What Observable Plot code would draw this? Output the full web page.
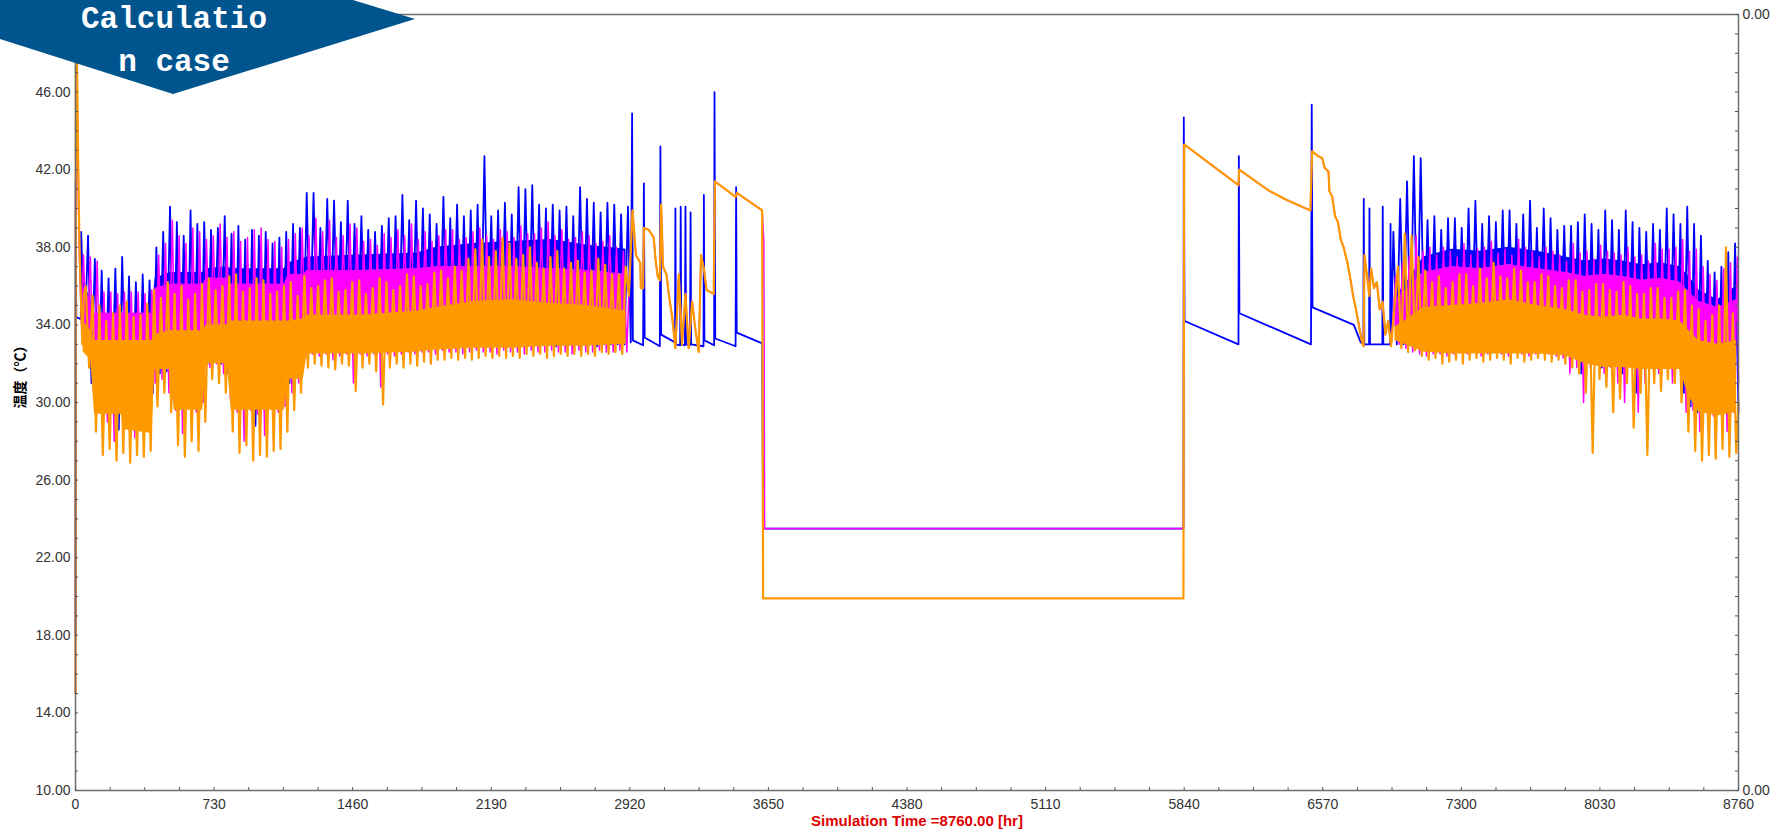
<!DOCTYPE html>
<html>
<head>
<meta charset="utf-8">
<script src="https://cdn.jsdelivr.net/npm/d3@7"></script>
<script src="https://cdn.jsdelivr.net/npm/@observablehq/plot@0.6"></script>
<style>
  html, body { margin: 0; padding: 0; background: #fff; }
  #wrap { position: relative; width: 1785px; height: 836px; overflow: hidden; }
  #banner { position: absolute; left: 0; top: 0; }
</style>
</head>
<body>
<div id="wrap">
  <div id="chart"></div>
  <svg id="banner" width="430" height="100">
    <polygon points="0,0 353,0 415,19 173,94 0,39" fill="#00558f"></polygon>
    <text x="174" y="28" text-anchor="middle" font-family="Liberation Mono, monospace" font-weight="bold" font-size="31" fill="#fff">Calculatio</text>
    <text x="174" y="71" text-anchor="middle" font-family="Liberation Mono, monospace" font-weight="bold" font-size="31" fill="#fff">n case</text>
  </svg>
</div>
<script>
// ---------- axis ticks & titles ----------
const xTicks = [0, 730, 1460, 2190, 2920, 3650, 4380, 5110, 5840, 6570, 7300, 8030, 8760];
const yTicks = [10, 14, 18, 22, 26, 30, 34, 38, 42, 46];
const xTitle = "Simulation Time =8760.00 [hr]";
const yTitle = "温度（℃）";

// ================= BLUE =================
const blueStart = [[0, 18.0], [1, 41.4], [4, 34.4], [28, 34.3]];
// daily highs, every 36 h from hour 30
const blueHiA = [38.8, 38.6, 37.4, 36.8, 36.4, 36.9, 37.5, 36.5, 36.2, 36.6,
  36.3, 38.0, 38.8, 40.1, 39.3, 38.6, 39.9, 39.2, 39.3, 38.9,
  39.0, 39.6, 38.7, 39.1, 38.4, 38.9, 38.6, 38.8, 38.2, 38.5,
  38.8, 39.2, 39.0, 40.8, 40.8, 39.0, 40.5, 40.4, 39.3, 40.4,
  39.2, 39.6, 38.9, 38.8, 39.1, 39.5, 39.6, 40.7, 39.4, 40.4,
  40.0, 39.7, 39.2, 40.6, 39.5, 40.2, 39.6, 39.9, 40.2, 42.7,
  39.6, 39.9, 40.3, 39.7, 41.1, 41.0, 41.2, 40.2, 40.0, 40.2,
  39.9, 40.1, 39.6, 41.1, 40.5, 40.3, 39.8, 40.3, 40.2, 39.7,
  40.1];
// daily lows, every 36 h from hour 48
const blueLoA = [33.0, 31.0, 30.0, 29.8, 30.2, 28.6, 30.0, 29.6, 29.9, 29.8,
  30.5, 31.5, 31.6, 30.2, 29.9, 29.8, 30.0, 30.2, 32.0, 32.2,
  32.0, 31.5, 30.2, 29.9, 29.8, 28.8, 29.9, 30.1, 30.2, 30.3,
  31.0, 31.5, 32.0, 33.0, 32.9, 33.0, 33.1, 33.0, 32.9, 33.0,
  33.0, 33.1, 33.0, 32.9, 33.0, 33.0, 33.1, 33.0, 33.0, 32.9,
  33.0, 33.0, 33.1, 33.0, 33.0, 33.0, 32.9, 33.0, 33.1, 33.0,
  33.0, 33.0, 32.9, 33.0, 33.0, 33.1, 33.0, 33.0, 33.0, 32.9,
  33.0, 33.0, 33.1, 33.0, 33.0, 32.9, 33.0, 33.0, 33.0, 33.0];
// switching / idle / restart period (hour, °C)
const blueSaw = [[2925, 33.1], [2932, 44.9], [2936, 33.2], [2990, 32.95], [2994, 41.3], [2998, 33.35],
  [3078, 32.9], [3081, 43.2], [3085, 33.5], [3158, 33.1], [3160, 40.0], [3163, 33.0],
  [3185, 32.95], [3188, 40.1], [3191, 33.0], [3210, 32.95], [3213, 40.1], [3216, 33.0],
  [3237, 32.95], [3240, 39.8], [3243, 33.0], [3308, 32.9], [3310, 40.7], [3313, 33.2],
  [3364, 32.95], [3366, 46.0], [3370, 33.3], [3477, 32.9], [3480, 41.1], [3483, 33.6],
  [3617, 33.05], [3622, 23.5], [5836, 23.5], [5838, 44.7], [5842, 34.2], [6126, 33.0],
  [6128, 42.7], [6131, 34.6], [6508, 33.0], [6512, 45.35], [6516, 34.9], [6734, 34.0],
  [6770, 33.1], [6784, 33.0], [6786, 40.5], [6789, 33.0], [6814, 33.0], [6816, 40.0],
  [6819, 33.0], [6884, 33.0], [6886, 40.1], [6889, 33.0], [6925, 33.0], [6927, 39.2], [6930, 33.0]];
// highs every 36 h from hour 6942, lows every 36 h from hour 6960
const blueHiB = [38.8, 40.5, 41.4, 42.7, 42.6, 39.4, 39.6, 38.9, 39.5, 39.5,
  39.0, 40.0, 40.4, 39.2, 39.6, 39.3, 39.9, 39.9, 39.2, 39.7,
  40.4, 39.0, 40.0, 39.5, 38.9, 39.1, 39.1, 39.3, 39.7, 39.2,
  38.9, 39.9, 39.4, 38.9, 39.9, 39.3, 39.0, 38.8, 39.2, 38.9,
  40.0, 39.7, 39.2, 40.1, 39.2, 38.6, 37.3, 36.7, 37.0, 37.75,
  38.2];
const blueLoB = [33.0, 33.0, 33.0, 33.0, 33.0, 33.0, 32.9, 33.0, 33.0, 33.0,
  33.0, 32.9, 33.0, 33.0, 33.0, 33.0, 33.0, 32.9, 33.0, 33.0,
  33.0, 33.0, 33.0, 33.0, 33.0, 32.8, 32.3, 31.5, 32.5, 32.3,
  31.8, 32.5, 32.2, 31.5, 32.5, 30.5, 32.2, 32.0, 32.5, 32.2,
  31.8, 32.2, 30.5, 29.8, 29.5, 29.8, 29.6, 30.0, 29.5, 29.8];
const blueEnd = [[8760, 29.5]];

// ================= MAGENTA =================
const magStart = [[0, 15.0], [2, 49.0], [8, 46.0], [14, 41.0], [22, 37.0], [32, 34.0]];
// highs every 36 h from hour 42, lows every 36 h from hour 60
const magHiA = [37.6, 37.5, 37.3, 35.7, 35.7, 35.6, 35.7, 35.7, 35.7, 35.6,
  35.8, 37.6, 38.2, 39.4, 38.6, 38.2, 39.0, 38.8, 38.4, 38.6,
  39.2, 38.5, 38.8, 38.3, 38.5, 38.9, 39.0, 38.4, 38.3, 38.0,
  38.4, 38.7, 39.0, 38.6, 39.5, 38.8, 39.4, 38.5, 38.6, 39.2,
  39.0, 38.3, 38.4, 38.1, 38.7, 38.5, 38.9, 38.6, 39.2, 38.4,
  38.8, 38.3, 38.6, 38.9, 38.9, 38.4, 38.5, 38.8, 39.0, 38.6,
  38.4, 38.9, 38.8, 38.5, 39.1, 38.7, 38.7, 39.0, 39.3, 38.6,
  38.9, 38.4, 38.5, 38.8, 38.6, 38.2, 38.3, 38.6, 38.0, 37.8,
  37.5];
const magLoA = [32.5, 30.5, 29.5, 29.0, 28.0, 29.6, 29.2, 28.2, 29.5, 29.3,
  31.0, 31.2, 30.5, 29.6, 28.4, 29.8, 29.5, 30.0, 31.8, 32.0,
  31.5, 30.2, 29.5, 28.0, 29.6, 29.4, 28.3, 29.8, 29.5, 29.8,
  30.5, 31.0, 32.3, 32.5, 32.4, 32.5, 32.2, 32.4, 32.5, 31.0,
  32.5, 32.4, 32.5, 30.8, 32.5, 32.4, 32.5, 32.6, 32.5, 32.6,
  32.6, 32.5, 32.7, 32.6, 32.6, 32.5, 32.6, 32.7, 32.6, 32.6,
  32.5, 32.7, 32.6, 32.6, 32.5, 32.7, 32.6, 32.6, 32.7, 32.6,
  32.6, 32.5, 32.7, 32.6, 32.6, 32.7, 32.6, 32.6, 32.7, 32.6];
// where magenta runs under the orange curve it follows the same readings; own points at the drop and restart
const magDrop = [[3626, 38.3], [3630, 23.5], [5837, 23.5], [5839, 43.3]];
const magHiB = [36.5, 37.2, 37.5, 38.6, 37.8, 38.0, 37.6, 38.0, 37.8, 37.5,
  38.2, 37.6, 37.9, 38.0, 38.3, 37.7, 37.9, 37.6, 38.4, 38.0,
  37.8, 37.5, 38.0, 37.8, 37.6, 37.3, 38.2, 37.7, 37.8, 37.4,
  38.1, 37.8, 37.7, 37.6, 38.0, 37.5, 37.6, 37.3, 38.2, 37.9,
  37.9, 38.0, 38.4, 37.8, 37.9, 37.0, 36.6, 36.3, 36.9, 37.2,
  37.5];
const magLoB = [33.0, 32.8, 32.6, 32.5, 32.4, 32.5, 32.5, 32.4, 32.5, 32.6,
  32.5, 32.6, 32.4, 32.5, 32.6, 32.5, 32.4, 32.6, 32.5, 32.4,
  32.5, 32.6, 32.5, 32.4, 32.3, 31.5, 31.8, 30.0, 31.8, 32.0,
  31.5, 31.8, 31.0, 30.0, 31.8, 29.5, 31.0, 31.8, 31.5, 31.8,
  31.0, 31.8, 29.5, 29.6, 28.5, 29.5, 29.3, 29.8, 28.5, 29.5];
const magEnd = [[8760, 31.0]];

// ================= ORANGE =================
const orStart = [[0, 15.0], [2, 48.5], [8, 47.5], [14, 42.5], [20, 38.5], [28, 35.5], [36, 33.0], [44, 35.5]];
// highs every 36 h from hour 54, lows every 36 h from hour 72
const orHiA = [36.0, 35.5, 35.0, 34.2, 34.6, 35.0, 35.2, 34.4, 34.5, 35.1,
  35.8, 35.4, 36.2, 35.6, 36.0, 35.3, 35.6, 36.1, 36.4, 35.8,
  36.0, 36.5, 36.6, 35.7, 35.9, 36.4, 36.3, 35.6, 35.7, 36.0,
  36.2, 35.5, 36.5, 35.9, 36.0, 36.3, 36.4, 35.7, 35.8, 36.2,
  36.3, 35.6, 35.9, 36.4, 36.2, 35.8, 36.0, 36.6, 36.5, 36.0,
  36.1, 36.7, 36.8, 36.4, 37.0, 36.8, 37.4, 37.9, 38.4, 37.5,
  37.8, 38.5, 38.2, 37.4, 37.6, 38.0, 37.2, 36.9, 37.5, 37.8,
  36.9, 37.2, 37.3, 36.7, 36.8, 37.4, 37.1, 36.6, 36.6, 37.0];
const orLoA = [31.8, 28.5, 27.3, 27.6, 27.0, 27.4, 26.9, 27.3, 27.2, 27.5,
  29.8, 30.5, 29.5, 27.8, 27.2, 28.0, 27.5, 29.0, 31.2, 31.0,
  30.5, 28.5, 27.4, 27.8, 27.0, 27.3, 27.2, 27.5, 27.6, 28.5,
  29.6, 30.5, 31.8, 32.0, 31.9, 31.8, 31.7, 32.0, 31.9, 30.6,
  31.8, 32.0, 31.6, 29.9, 31.8, 32.0, 31.8, 32.0, 31.9, 32.1,
  32.0, 32.2, 32.2, 32.3, 32.2, 32.3, 32.2, 32.3, 32.4, 32.3,
  32.4, 32.3, 32.4, 32.3, 32.5, 32.4, 32.5, 32.3, 32.4, 32.5,
  32.4, 32.5, 32.4, 32.5, 32.4, 32.6, 32.5, 32.6, 32.5];
const orSaw = [[2915, 35.5], [2934, 39.9], [2952, 37.6], [2964, 37.4], [2975, 37.2], [2978, 35.9],
  [2990, 35.9], [2994, 39.0], [3020, 38.9], [3046, 38.5], [3055, 37.4], [3067, 36.5],
  [3078, 36.3], [3085, 40.2], [3095, 37.0], [3113, 36.6], [3125, 35.6], [3143, 34.4],
  [3160, 32.8], [3178, 36.6], [3195, 33.0], [3213, 35.6], [3230, 32.8], [3248, 35.2],
  [3265, 33.8], [3283, 32.6], [3295, 37.6], [3310, 36.9], [3324, 35.8], [3362, 35.6],
  [3368, 41.4], [3477, 40.6], [3485, 40.8], [3529, 40.5], [3617, 39.9], [3622, 19.9],
  [5836, 19.9], [5840, 43.3], [6126, 41.2], [6130, 42.0], [6290, 40.9], [6378, 40.45],
  [6505, 39.9], [6514, 42.95], [6545, 42.7], [6567, 42.6], [6580, 42.1], [6600, 41.9],
  [6605, 40.9], [6620, 40.6], [6635, 39.6], [6650, 39.3], [6665, 38.4], [6680, 38.0],
  [6700, 37.2], [6715, 36.4], [6730, 35.5], [6745, 34.8], [6760, 34.0], [6775, 33.2],
  [6785, 32.9], [6790, 37.6], [6800, 36.8], [6815, 35.5], [6825, 36.9], [6840, 35.9],
  [6855, 36.2], [6870, 34.8], [6885, 35.2], [6900, 33.5], [6915, 34.2], [6930, 32.9]];
// highs every 36 h from hour 6966, lows every 36 h from hour 6984
const orHiB = [37.0, 38.7, 38.6, 37.5, 36.8, 36.2, 36.5, 35.9, 36.2, 36.6,
  36.6, 36.0, 36.9, 36.4, 37.2, 36.5, 36.4, 36.9, 36.8, 36.2,
  36.2, 36.6, 36.5, 36.0, 35.9, 36.3, 36.3, 35.7, 35.8, 36.1,
  36.1, 35.8, 35.7, 36.2, 36.0, 35.6, 35.6, 35.9, 35.9, 35.4,
  35.4, 35.7, 35.8, 35.0, 34.8, 34.2, 34.5, 35.0, 38.0, 34.6];
const orLoB = [32.8, 32.6, 32.7, 32.4, 32.2, 32.3, 32.0, 32.1, 32.2, 32.0,
  32.2, 32.3, 32.1, 32.2, 32.3, 32.2, 32.0, 32.3, 32.1, 32.2,
  32.3, 32.2, 32.1, 32.2, 32.0, 31.8, 31.5, 30.5, 27.4, 31.2,
  30.8, 29.5, 30.2, 31.0, 28.7, 30.5, 27.3, 31.0, 30.6, 31.2,
  31.0, 30.0, 28.5, 27.5, 27.0, 27.3, 27.1, 27.6, 27.2, 27.4];
const orEnd = [[8760, 30.0]];

// ============ solid core of the daily swings (hour, °C) ============
const coreAt = [40, 80, 100, 240, 260, 400, 420, 500, 520, 670, 690, 800, 820, 1100, 1120, 1200, 1220, 1500, 1800, 1900, 2100, 2300, 2500, 2700, 2900];
const coreAorLo = [32.6, 32.2, 29.4, 29.4, 28.6, 28.4, 31.7, 31.7, 29.6, 29.6, 32.0, 32.0, 29.6, 29.6, 31.2, 31.2, 32.5, 32.5, 32.6, 32.7, 32.8, 32.8, 32.9, 32.9, 33.0];
const coreAorHi = [34.2, 33.7, 33.2, 33.2, 33.2, 33.2, 33.5, 33.7, 33.7, 33.7, 34.0, 34.0, 34.2, 34.2, 34.2, 34.3, 34.5, 34.5, 34.7, 34.9, 35.2, 35.3, 35.1, 35.0, 34.7];
const coreAmagHi = [36.0, 35.3, 34.6, 34.6, 34.6, 34.6, 35.9, 36.1, 36.1, 36.1, 36.4, 36.4, 36.1, 36.1, 36.6, 36.6, 36.8, 36.8, 36.9, 37.0, 37.0, 37.0, 36.9, 36.8, 36.6];
const coreAblueHi = [36.3, 35.3, 34.6, 34.6, 34.6, 34.6, 36.4, 36.7, 36.7, 36.7, 36.9, 37.0, 36.9, 36.9, 37.2, 37.4, 37.5, 37.6, 37.7, 38.0, 38.2, 38.3, 38.4, 38.1, 37.9];
const coreBt = [6950, 7000, 7100, 7250, 7400, 7550, 7700, 7850, 7950, 8050, 8150, 8250, 8350, 8450, 8500, 8550, 8650, 8750];
const coreBorLo = [33.2, 33.0, 32.6, 32.5, 32.5, 32.5, 32.5, 32.4, 32.0, 31.8, 31.8, 31.7, 31.7, 31.7, 30.3, 29.5, 29.3, 29.5];
const coreBorHi = [33.9, 34.2, 34.9, 35.0, 35.1, 35.3, 35.0, 34.8, 34.5, 34.4, 34.5, 34.3, 34.3, 34.2, 33.7, 33.2, 33.0, 33.2];
const coreBmagHi = [35.2, 35.7, 36.7, 37.0, 36.9, 37.1, 36.9, 36.7, 36.5, 36.6, 36.5, 36.3, 36.4, 36.2, 35.7, 35.2, 34.9, 35.3];
const coreBblueHi = [35.5, 36.0, 37.5, 37.9, 37.8, 38.0, 37.8, 37.5, 37.3, 37.4, 37.3, 37.1, 37.2, 37.0, 36.5, 35.8, 35.3, 36.0];

// ---------- assemble ----------
const pairs = a => a.map(([t, v]) => ({t, v}));
// interleave highs (from t0) and lows (from t0 + 18), both spaced 36 h
const swings = (hi, lo, t0) => {
  const out = [];
  hi.forEach((v, i) => {
    out.push({t: t0 + 36 * i, v});
    if (i < lo.length) out.push({t: t0 + 18 + 36 * i, v: lo[i]});
  });
  return out;
};
const orSawA = orSaw.filter(([t]) => t >= 2934 && t <= 3617);
const orSawB = orSaw.filter(([t]) => t >= 6126);

const blue = [...pairs(blueStart), ...swings(blueHiA, blueLoA, 30), ...pairs(blueSaw),
  ...swings(blueHiB, blueLoB, 6942), ...pairs(blueEnd)];
const mag = [...pairs(magStart), ...swings(magHiA, magLoA, 42), ...pairs(orSawA), ...pairs(magDrop),
  ...pairs(orSawB), ...swings(magHiB, magLoB, 6954), ...pairs(magEnd)];
const orange = [...pairs(orStart), ...swings(orHiA, orLoA, 54), ...pairs(orSaw),
  ...swings(orHiB, orLoB, 6966), ...pairs(orEnd)];

const core = (ts, lo, oh, mh, bh) => ts.map((t, i) => ({t, lo: lo[i], oh: oh[i], mh: mh[i], bh: bh[i]}));
const coreA = core(coreAt, coreAorLo, coreAorHi, coreAmagHi, coreAblueHi);
const coreB = core(coreBt, coreBorLo, coreBorHi, coreBmagHi, coreBblueHi);

const BLUE = "#0000ff", MAG = "#ff00ff", ORANGE = "#ff9900";
const xMinor = d3.range(0, 8761, 182.5);
const yMinor = d3.range(10, 51, 1);

const chart = Plot.plot({
  width: 1785,
  height: 836,
  marginLeft: 75,
  marginRight: 47,
  marginTop: 14,
  marginBottom: 46,
  style: {background: "#fff", fontFamily: "Liberation Sans, Arial, sans-serif"},
  x: {domain: [0, 8760], label: null},
  y: {domain: [10, 50], label: null},
  marks: [
    Plot.areaY(coreA, {x: "t", y1: "mh", y2: "bh", fill: BLUE}),
    Plot.areaY(coreB, {x: "t", y1: "mh", y2: "bh", fill: BLUE}),
    Plot.line(blue, {x: "t", y: "v", stroke: BLUE, strokeWidth: 1.8}),
    Plot.areaY(coreA, {x: "t", y1: "oh", y2: "mh", fill: MAG}),
    Plot.areaY(coreB, {x: "t", y1: "oh", y2: "mh", fill: MAG}),
    Plot.line(mag, {x: "t", y: "v", stroke: MAG, strokeWidth: 1.5}),
    Plot.areaY(coreA, {x: "t", y1: "lo", y2: "oh", fill: ORANGE}),
    Plot.areaY(coreB, {x: "t", y1: "lo", y2: "oh", fill: ORANGE}),
    Plot.line(orange, {x: "t", y: "v", stroke: ORANGE, strokeWidth: 2.2}),
    Plot.frame({stroke: "#6e6e6e", strokeWidth: 1.5}),
    Plot.ruleY(yMinor, {x1: 0, x2: 16, stroke: "#555", strokeWidth: 1}),
    Plot.ruleY(yMinor, {x1: 8744, x2: 8760, stroke: "#555", strokeWidth: 1}),
    Plot.ruleX(xMinor, {y1: 10, y2: 10.15, stroke: "#555", strokeWidth: 1}),
    Plot.axisX({ticks: xTicks, tickSize: 0, tickPadding: 9, tickFormat: d3.format("d"), fontSize: 14, fill: "#333"}),
    Plot.axisY({ticks: yTicks, tickSize: 0, tickPadding: 5, tickFormat: d3.format(".2f"), fontSize: 14, fill: "#333"}),
    Plot.text([10, 50], {x: 8760, y: d => d, text: () => "0.00", dx: 4, textAnchor: "start", fontSize: 14, fill: "#333"}),
    Plot.text([xTitle], {frameAnchor: "bottom", text: d => d, dy: 35, dx: 10, fontSize: 15, fontWeight: "bold", fill: "#e00000"}),
    Plot.text([yTitle], {frameAnchor: "left", text: d => d, dx: -55, dy: 6, rotate: -90, fontSize: 14, fontWeight: "bold", fill: "#000", fontFamily: "Noto Sans CJK SC"})
  ]
});
document.getElementById("chart").appendChild(chart);
</script>
</body>
</html>
